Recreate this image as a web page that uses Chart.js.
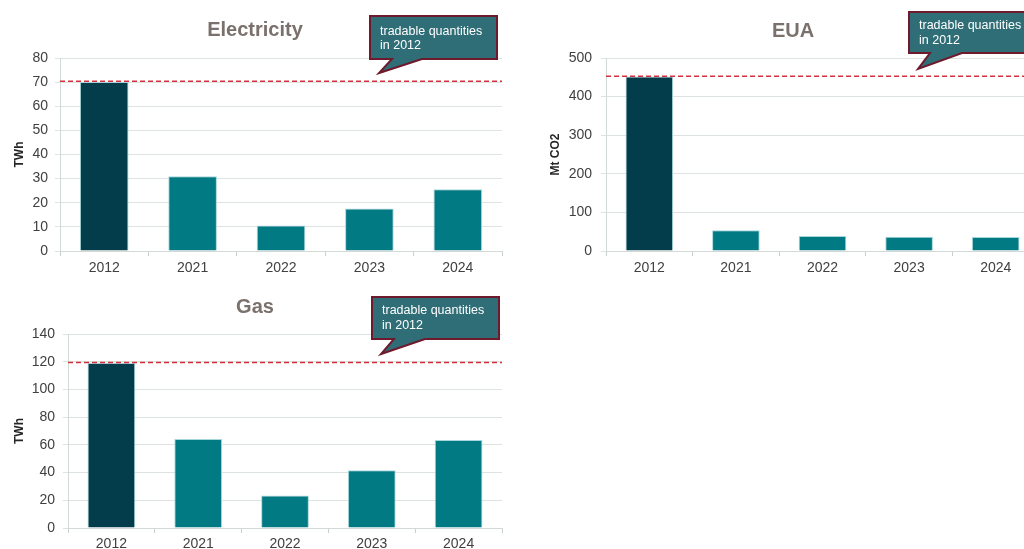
<!DOCTYPE html>
<html><head><meta charset="utf-8">
<script src="https://cdn.jsdelivr.net/npm/chart.js@4"></script>
<style>
html,body{margin:0;padding:0;background:#fff;overflow:hidden;width:1024px;height:549px;}
.c{position:absolute;}
</style></head><body>
<div class="c" style="left:0;top:0;width:512px;height:280px"><canvas id="elec"></canvas></div>
<div class="c" style="left:512px;top:0;width:530px;height:280px"><canvas id="eua"></canvas></div>
<div class="c" style="left:0;top:280px;width:512px;height:269px"><canvas id="gas"></canvas></div>
<script>
// ---- data ----
const categories = ['2012', '2021', '2022', '2023', '2024'];
const electricityValues = [70.1, 31.0, 10.6, 17.6, 25.6];
const euaValues = [452, 54, 39, 37, 36];
const gasValues = [119, 64.2, 23.5, 41.6, 63.5];
const electricityTicks = [0, 10, 20, 30, 40, 50, 60, 70, 80];
const euaTicks = [0, 100, 200, 300, 400, 500];
const gasTicks = [0, 20, 40, 60, 80, 100, 120, 140];
const electricityLevel2012 = 70.4;
const euaLevel2012 = 453;
const gasLevel2012 = 119.5;
const calloutLines = ['tradable quantities', 'in 2012'];

const FONT = "'Liberation Sans', Arial, sans-serif";
const barColors = ['#033d4b', '#027a84', '#027a84', '#027a84', '#027a84'];

const annot = {
  id: 'annot',
  afterDatasetsDraw(chart, args, o) {
    const {ctx, chartArea: a, scales: {y}} = chart;
    const py = y.getPixelForValue(o.level);
    ctx.save();
    ctx.strokeStyle = '#d6303f'; ctx.lineWidth = 1.5; ctx.setLineDash([5, 3]);
    ctx.beginPath(); ctx.moveTo(a.left, py); ctx.lineTo(a.right, py); ctx.stroke();
    ctx.setLineDash([]);
    // heading
    ctx.fillStyle = '#7b716c';
    ctx.font = 'bold 20px ' + FONT;
    ctx.textAlign = 'center'; ctx.textBaseline = 'alphabetic';
    ctx.fillText(o.heading, o.hx, o.hy);
    // callout
    const c = o.callout;
    ctx.beginPath();
    ctx.moveTo(c.x, c.y); ctx.lineTo(c.x + c.w, c.y); ctx.lineTo(c.x + c.w, c.y + c.h);
    ctx.lineTo(c.b2, c.y + c.h); ctx.lineTo(c.tx, c.ty); ctx.lineTo(c.b1, c.y + c.h);
    ctx.lineTo(c.x, c.y + c.h); ctx.closePath();
    ctx.fillStyle = '#2f6e77'; ctx.fill();
    ctx.strokeStyle = '#6e1a2c'; ctx.lineWidth = 2; ctx.lineJoin = 'miter'; ctx.stroke();
    ctx.fillStyle = '#ffffff'; ctx.font = '12.5px ' + FONT; ctx.textAlign = 'left';
    calloutLines.forEach((t, i) => ctx.fillText(t, c.textX, c.l1 + i * c.lh));
    ctx.restore();
  }
};

function makeChart(id, values, ticks, level, yTitle, g) {
  return new Chart(document.getElementById(id), {
    type: 'bar',
    data: {labels: categories, datasets: [{data: values, backgroundColor: barColors,
      borderColor: '#a6d6d9', borderWidth: 1,
      categoryPercentage: 1, barPercentage: 0.55}]},
    plugins: [annot],
    options: {
      responsive: true, maintainAspectRatio: false, animation: false,
      layout: {padding: {left: 0, top: g.padTop, right: g.padRight, bottom: 0}},
      plugins: {
        legend: {display: false}, tooltip: {enabled: false},
        annot: {level: level, heading: g.heading, hx: g.hx, hy: g.hy, callout: g.callout}
      },
      scales: {
        x: {
          grid: {display: true, drawOnChartArea: false, offset: true, tickLength: 5, color: '#c9d0cc'},
          border: {display: true, color: '#d3dad6'},
          ticks: {font: {family: FONT, size: 14}, color: '#404040', padding: g.xPad},
          afterFit: s => { s.height = g.xHeight; }
        },
        y: {
          min: 0, max: ticks[ticks.length - 1],
          afterBuildTicks: s => { s.ticks = ticks.map(v => ({value: v})); },
          afterFit: s => { s.width = g.axisWidth; },
          grid: {color: '#dde3e0', tickLength: 5},
          border: {display: true, color: '#d3dad6'},
          ticks: {font: {family: FONT, size: 14}, color: '#404040', padding: g.tickPad},
          title: {display: true, text: yTitle, font: {family: FONT, size: 12, weight: 'bold'},
            color: '#262626', padding: {top: g.titlePad, bottom: 0}}
        }
      }
    }
  });
}

makeChart('elec', electricityValues, electricityTicks, electricityLevel2012, 'TWh', {
  padTop: 58, padRight: 10, xHeight: 29, xPad: 4, axisWidth: 60, tickPad: 7, titlePad: 12,
  heading: 'Electricity', hx: 255, hy: 36,
  callout: {x: 370, y: 16, w: 127, h: 43, tx: 379, ty: 73, b1: 392, b2: 422, textX: 380, l1: 35, lh: 14}
});
makeChart('eua', euaValues, euaTicks, euaLevel2012, 'Mt CO2', {
  padTop: 58, padRight: 3, xHeight: 29, xPad: 4, axisWidth: 94, tickPad: 9, titlePad: 36,
  heading: 'EUA', hx: 281, hy: 37,
  callout: {x: 397, y: 12, w: 127, h: 41, tx: 406, ty: 69, b1: 418, b2: 450, textX: 407, l1: 29, lh: 15}
});
makeChart('gas', gasValues, gasTicks, gasLevel2012, 'TWh', {
  padTop: 54, padRight: 10, xHeight: 21, xPad: 3, axisWidth: 68, tickPad: 8, titlePad: 12,
  heading: 'Gas', hx: 255, hy: 33,
  callout: {x: 372, y: 17, w: 127, h: 42, tx: 381, ty: 74, b1: 394, b2: 425, textX: 382, l1: 34, lh: 15}
});
</script>
</body></html>
